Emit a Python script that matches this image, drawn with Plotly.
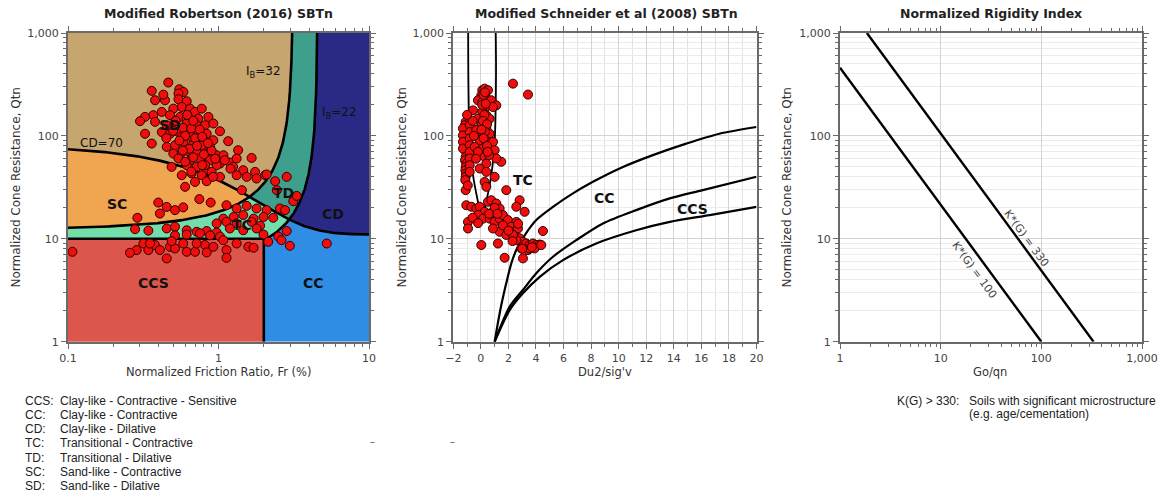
import numpy as np
import plotly.graph_objects as go

FONT = "DejaVu Sans"
W, H = 1171, 496

# ---------------- data ----------------
# Robertson (2016) chart points: normalized friction ratio Fr (%) and Qtn
rob_fr = [0.464, 0.360, 0.549, 0.584, 0.379, 0.441, 0.430, 0.542, 0.542, 0.615,
          0.570, 0.501, 0.647, 0.698, 0.774, 0.420, 0.369, 0.325, 0.301, 0.379,
          0.476, 0.556, 0.615, 0.734, 0.857, 0.453, 0.501, 0.615, 0.716, 0.814,
          0.924, 0.325, 0.420, 0.476, 0.542, 0.647, 0.734, 0.835, 1.023, 0.360,
          0.453, 0.514, 0.584, 0.680, 0.794, 0.924, 1.16, 0.501, 0.570, 0.630,
          0.716, 0.835, 0.972, 1.079, 1.35, 0.542, 0.647, 0.755, 0.879, 1.023,
          1.19, 1.32, 1.66, 0.488, 0.615, 0.716, 0.835, 0.972, 1.25, 1.46,
          0.570, 0.663, 0.774, 0.901, 1.32, 1.54, 1.75, 2.04, 0.698, 0.835,
          0.600, 1.79, 2.09, 2.38, 2.84, 0.570, 0.663, 0.774, 0.879, 0.600,
          0.814, 1.023, 1.43, 0.746, 0.887, 0.398, 0.453, 0.514, 0.583, 0.408,
          1.13, 1.32, 1.54, 1.79, 2.09, 2.56, 3.14, 3.31, 2.44, 0.289,
          1.076, 1.26, 1.46, 1.71, 1.99, 2.31, 2.77, 0.972, 1.13, 1.32,
          1.66, 1.89, 0.453, 0.514, 0.615, 0.716, 0.835, 0.972, 1.19, 1.46,
          1.79, 1.99, 0.279, 0.342, 0.514, 0.615, 0.753, 0.879, 1.023, 0.286,
          0.317, 0.342, 0.378, 0.408, 0.476, 0.514, 0.615, 0.698, 0.813, 0.924,
          1.076, 1.32, 1.58, 1.71, 2.14, 2.50, 2.84, 2.98, 5.24, 0.453,
          1.13, 1.13, 0.107, 0.258, 0.351, 0.835, 0.716, 0.583, 0.488, 2.62,
          0.52, 0.58, 0.66, 0.60, 0.70, 0.75, 0.55, 0.64, 0.72, 0.80,
          0.68, 0.90, 0.58, 0.45, 0.50, 0.62, 0.68, 0.78, 0.85, 0.95,
          1.10, 1.20, 0.66, 0.78, 0.92]
rob_qtn = [330, 274, 284, 267, 222, 222, 252, 258, 227, 217,
           191, 184, 184, 171, 184, 171, 159, 153, 139, 137,
           159, 153, 147, 147, 153, 127, 122, 132, 127, 127,
           132, 105, 109, 105, 109, 109, 105, 105, 111, 84.3,
           78.2, 81.2, 87.5, 84.3, 90.8, 90.8, 88.8, 67.3, 68.9, 71.0,
           70.0, 70.0, 64.9, 64.9, 72.6, 60.3, 58.0, 60.3, 58.0, 53.8,
           55.1, 60.3, 61.1, 50.0, 51.9, 50.0, 46.4, 51.9, 50.0, 46.4,
           41.5, 43.1, 41.5, 44.7, 41.5, 40.0, 44.7, 41.5, 35.7, 36.3,
           32.0, 38.5, 42.2, 36.3, 40.0, 97.8, 97.8, 81.2, 78.2, 56.0,
           52.0, 40.0, 29.7, 24.3, 22.5, 22.5, 20.4, 19.0, 20.2, 17.6,
           21.2, 19.7, 20.9, 19.7, 19.0, 19.7, 23.2, 26.1, 29.7, 16.0,
           15.7, 16.3, 17.0, 15.7, 16.3, 16.0, 19.0, 14.1, 14.6, 14.1,
           14.6, 13.4, 12.6, 13.1, 12.1, 11.7, 11.9, 11.5, 12.6, 12.1,
           12.6, 11.0, 12.4, 12.0, 10.8, 11.0, 11.3, 10.8, 10.5, 7.77,
           9.0, 7.77, 8.7, 7.77, 8.36, 8.06, 7.48, 7.48, 8.7, 8.36,
           9.7, 9.0, 8.36, 8.18, 9.35, 10.5, 11.9, 8.55, 9.0, 6.44,
           7.77, 6.53, 7.48, 7.31, 9.0, 7.37, 9.0, 9.0, 9.5, 9.7,
           140, 120, 118, 100, 95, 115, 90, 75, 80, 66,
           62, 72, 72, 95, 112, 160, 140, 98, 85, 60,
           58, 48, 45, 52, 40]

# Schneider (2008) chart points: Du2/sig'v and Qtn
sch_du = [-1.10, -1.15, -1.05, -1.12, -1.08, -1.14, -1.06, -1.10, -1.13, -1.07,
          -1.10, -1.15, -1.05, -1.10, -1.12, -1.08, -1.10, -1.13, -1.30, -1.30,
          -1.30, -1.30, -0.81, -0.81, -0.81, -0.81, -0.81, -0.81, -0.81, -0.81,
          -1.10, 2.33, 3.42, 0.105, 0.274, 0.516, 0.033, 0.395, 0.758, -0.209,
          1.12, 0.879, 0.105, 0.274, -0.572, 0.105, 0.395, -0.209, 0.274, 0.637,
          0.033, 0.395, -0.33, 0.637, 0.154, -0.088, 0.516, 0.879, -0.451, 0.154,
          -0.209, 0.999, 0.274, 1.483, 1.12, 0.395, -0.088, 0.395, 0.999, 0.274,
          0.395, 1.846, -1.055, -0.693, -0.33, -0.088, 0.274, 0.516, 0.758, 1.12,
          1.362, 0.879, -0.209, 0.154, 0.637, 0.999, 1.362, 1.604, 1.966, 2.571,
          1.725, 2.208, 1.362, 0.879, 1.846, 2.45, 2.692, 2.812, 3.054, 3.296,
          3.537, 3.779, 4.021, 4.263, 3.90, 3.417, 2.933, 2.571, 2.329, 2.812,
          3.175, 2.571, 4.504, -0.934, -0.934, 0.033, 1.241, 1.725, 3.054, 3.537,
          4.384, 0.20, 0.30, 0.10, 0.35, 0.25, 0.15, 0.45, 0.30, 0.05,
          0.20, 0.45, 0.60, 0.50, -0.35, -0.50, -0.60, -0.95, -1.00, 1.00,
          1.60, 2.00, 2.30, 3.00, 3.70, 2.70, 0.60, 1.20, -0.60, -0.20]
sch_qtn = [137, 127, 118, 109, 101, 94.2, 87.5, 81.2, 75.4, 70.0,
           62.5, 58.0, 53.8, 50.0, 46.4, 43.1, 40.0, 37.2, 118, 101,
           87.5, 75.4, 127, 109, 94.2, 81.2, 70.0, 60.3, 51.9, 44.7,
           29.7, 322, 252, 278, 288, 278, 248, 230, 222, 222,
           198, 191, 214, 184, 177, 171, 159, 147, 137, 147,
           127, 118, 114, 105, 101, 90.8, 87.5, 87.5, 78.2, 75.4,
           70.0, 72.6, 62.5, 56.0, 60.3, 53.8, 48.2, 44.7, 40.0, 35.7,
           32.0, 29.7, 21.2, 20.5, 19.7, 20.5, 18.3, 22.9, 23.7, 22.0,
           19.7, 18.3, 17.0, 15.7, 15.7, 14.6, 15.7, 17.0, 15.2, 14.6,
           12.6, 13.1, 11.7, 12.6, 10.9, 11.7, 12.6, 10.1, 9.35, 9.0,
           8.7, 9.0, 8.7, 8.8, 8.06, 7.77, 8.06, 9.7, 10.9, 23.7,
           18.3, 20.5, 11.9, 14.6, 12.6, 8.7, 9.0, 6.54, 6.45, 8.06,
           8.7, 250, 265, 200, 205, 160, 140, 130, 110, 115,
           95, 80, 65, 70, 60, 100, 140, 33, 160, 20,
           13.5, 12, 9.5, 8.0, 8.3, 14, 17.5, 17.5, 16, 14.2]

# Boundary parameters (as labelled on the Robertson chart)
CD_LEVEL = 70
IB_UPPER = 32
IB_LOWER = 22
QTN_SENSITIVE = 10
FR_SENSITIVE = 2

# Schneider chart boundary curves
tc_cc_du = [1.0, 1.4, 1.84, 2.21, 2.57, 3.18, 4.02, 5.23, 6.68, 8.13, 10.07, 12.48, 14.9, 17.3, 20.0]
tc_cc_q = [1.0, 2.0, 3.69, 5.77, 7.77, 10.8, 15.2, 20.4, 27.6, 35.8, 48.3, 65, 84.1, 105, 122]
cc_ccs_du = [1.0, 2.09, 3.05, 4.02, 5.23, 6.92, 8.86, 11.27, 13.71, 16.1, 20.0]
cc_ccs_q = [1.0, 2.19, 3.18, 4.62, 6.69, 9.7, 14.1, 19.0, 24.7, 29.7, 40.1]
ccs_low_du = [1.0, 2.09, 3.05, 4.27, 5.96, 8.37, 11.27, 13.71, 16.6, 20.0]
ccs_low_q = [1.0, 2.03, 2.95, 4.27, 6.2, 9.0, 12.1, 14.6, 17.0, 20.4]
tc_left_du = [-0.92, -0.90, -0.81, -0.57, -0.21, 0.08]
tc_left_q = [1000, 300, 87.5, 41.5, 22.9, 15.5]
tc_right_du = [1.08, 1.10, 1.00, 0.76, 0.39, 0.08]
tc_right_q = [1000, 390, 87.5, 41.5, 22.9, 15.5]

# Rigidity index lines
kg100_go = [1.0, 100.0]
kg100_q = [460.0, 1.0]
kg330_go = [1.85, 330.0]
kg330_q = [1000.0, 1.0]

legend_codes = ["CCS:", "CC:", "CD:", "TC:", "TD:", "SC:", "SD:"]
legend_desc = ["Clay-like - Contractive - Sensitive", "Clay-like - Contractive",
               "Clay-like - Dilative", "Transitional - Contractive",
               "Transitional - Dilative", "Sand-like - Contractive",
               "Sand-like - Dilative"]

# ---------------- Robertson boundaries ----------------
def cd_q(f):
    return 11.0 + CD_LEVEL / (1.0 + 0.06 * np.asarray(f)) ** 17

def ib_q(f, ib):
    return (70.0 * ib - 1000.0) / (100.0 - ib * np.asarray(f))

def ib_fr_at(q, ib):
    return (100.0 - (70.0 * ib - 1000.0) / q) / ib

def crossing(ib, lo, hi):
    g = lambda f: cd_q(f) - ib_q(f, ib)
    for _ in range(80):
        mid = 0.5 * (lo + hi)
        if g(lo) * g(mid) <= 0:
            hi = mid
        else:
            lo = mid
    return 0.5 * (lo + hi)

def seg(a, b, n=150):
    return np.logspace(np.log10(a), np.log10(b), n)

fA = crossing(IB_UPPER, 1.0, 2.5)
fB = crossing(IB_LOWER, 2.2, 4.0)
f10 = ib_fr_at(QTN_SENSITIVE, IB_LOWER)
fT32 = ib_fr_at(1000.0, IB_UPPER)
fT22 = ib_fr_at(1000.0, IB_LOWER)

s_left = seg(0.1, fA)
s_ab = seg(fA, fB)
s_b10 = seg(fB, 10)
s_32 = seg(fA, fT32)
s_22 = seg(fB, fT22)
s_10b = seg(f10, fB)

def L(a):
    return list(np.asarray(a, dtype=float))

regions = [
    ("#DC564B", [0.1, FR_SENSITIVE, FR_SENSITIVE, 0.1], [1, 1, QTN_SENSITIVE, QTN_SENSITIVE]),
    ("#2F8DE4", [FR_SENSITIVE, FR_SENSITIVE, f10] + L(s_10b) + L(s_b10) + [10],
     [1, QTN_SENSITIVE, QTN_SENSITIVE] + L(ib_q(s_10b, IB_LOWER)) + L(cd_q(s_b10)) + [1]),
    ("#2A2A86", L(s_b10) + [10, fT22] + L(s_22[::-1]),
     L(cd_q(s_b10)) + [1000, 1000] + L(ib_q(s_22[::-1], IB_LOWER))),
    ("#3E9F8C", L(s_32) + [fT22] + L(s_22[::-1]) + L(s_ab[::-1]),
     L(ib_q(s_32, IB_UPPER)) + [1000] + L(ib_q(s_22[::-1], IB_LOWER)) + L(cd_q(s_ab[::-1]))),
    ("#C6A56E", L(s_left) + L(s_32) + [0.1],
     L(cd_q(s_left)) + L(ib_q(s_32, IB_UPPER)) + [1000]),
    ("#F0A551", L(s_left) + L(s_left[::-1]),
     L(cd_q(s_left)) + L(ib_q(s_left[::-1], IB_UPPER))),
    ("#72DFAA", [0.1, f10] + L(s_10b) + L(s_ab[::-1]) + L(s_left[::-1]),
     [QTN_SENSITIVE, QTN_SENSITIVE] + L(ib_q(s_10b, IB_LOWER)) + L(cd_q(s_ab[::-1])) + L(ib_q(s_left[::-1], IB_UPPER))),
]

fig = go.Figure()
for col, xs, ys in regions:
    fig.add_trace(go.Scatter(x=xs, y=ys, fill="toself", fillcolor=col, mode="lines",
                             line=dict(width=0.6, color=col), hoverinfo="skip",
                             showlegend=False, xaxis="x", yaxis="y"))

s_all = seg(0.1, 10, 300)
s32_all = seg(0.1, fT32, 300)
s22_all = seg(f10, fT22, 200)
lw = 2.6
bl = [
    (L(s_all), L(cd_q(s_all))),
    (L(s32_all), L(ib_q(s32_all, IB_UPPER))),
    (L(s22_all), L(ib_q(s22_all, IB_LOWER))),
    ([0.1, f10], [QTN_SENSITIVE, QTN_SENSITIVE]),
    ([FR_SENSITIVE, FR_SENSITIVE], [1, QTN_SENSITIVE]),
]
for xs, ys in bl:
    fig.add_trace(go.Scatter(x=xs, y=ys, mode="lines", line=dict(color="black", width=lw),
                             hoverinfo="skip", showlegend=False, xaxis="x", yaxis="y"))

marker = dict(size=9, color="#F20D0D", line=dict(color="#2A0000", width=1))
fig.add_trace(go.Scatter(x=rob_fr, y=rob_qtn, mode="markers", marker=marker,
                         showlegend=False, xaxis="x", yaxis="y"))

# ---------------- Schneider ----------------
for xs, ys, w in [(tc_cc_du, tc_cc_q, 2.2), (cc_ccs_du, cc_ccs_q, 2.2), (ccs_low_du, ccs_low_q, 2.2),
                  (tc_left_du, tc_left_q, 1.8), (tc_right_du, tc_right_q, 1.8)]:
    fig.add_trace(go.Scatter(x=xs, y=ys, mode="lines", line=dict(color="black", width=w, shape="spline", smoothing=0.8),
                             hoverinfo="skip", showlegend=False, xaxis="x2", yaxis="y2"))
fig.add_trace(go.Scatter(x=sch_du, y=sch_qtn, mode="markers", marker=marker,
                         showlegend=False, xaxis="x2", yaxis="y2"))

# ---------------- Rigidity ----------------
for xs, ys in [(kg100_go, kg100_q), (kg330_go, kg330_q)]:
    fig.add_trace(go.Scatter(x=xs, y=ys, mode="lines", line=dict(color="black", width=2.4),
                             hoverinfo="skip", showlegend=False, xaxis="x3", yaxis="y3"))

# ---------------- axes ----------------
Y_DOM = [1 - 341.7 / H, 1 - 33 / H]
X1 = [68 / W, 369 / W]
X2 = [453.3 / W, 756.5 / W]
X3 = [840 / W, 1142 / W]

decade_minor = [m * 10 ** e for e in range(-1, 3) for m in range(2, 10)]
tickfont = dict(family=FONT, size=11, color="#444444")
frame = dict(showline=True, linecolor="#6a6a6a", linewidth=2, mirror="allticks",
             ticks="outside", ticklen=5, tickcolor="#6a6a6a", tickwidth=1,
             tickfont=tickfont, zeroline=False, automargin=False)

def yq(domain, anchor, grid):
    d = dict(frame)
    d.update(type="log", range=[0, 3], domain=domain, anchor=anchor,
             tickmode="array", tickvals=[1, 10, 100, 1000], ticktext=["1", "10", "100", "1,000"],
             showgrid=grid, gridcolor="#d4d4d4", gridwidth=1,
             minor=dict(tickmode="array", tickvals=[v for v in decade_minor if 1 < v < 1000],
                        ticks="outside", ticklen=3, tickcolor="#6a6a6a",
                        showgrid=grid, gridcolor="#ebebeb", gridwidth=1))
    return d

xa1 = dict(frame)
xa1.update(type="log", range=[-1, 1], domain=X1, anchor="y", tickmode="array",
           tickvals=[0.1, 1, 10], ticktext=["0.1", "1", "10"], showgrid=False,
           minor=dict(tickmode="array", tickvals=[v for v in decade_minor if 0.1 < v < 10],
                      ticks="outside", ticklen=3, tickcolor="#6a6a6a"))
xa2 = dict(frame)
xa2.update(type="linear", range=[-2, 20], domain=X2, anchor="y2", tick0=-2, dtick=2,
           showgrid=True, gridcolor="#d4d4d4",
           minor=dict(dtick=1, ticks="outside", ticklen=3, tickcolor="#6a6a6a",
                      showgrid=True, gridcolor="#e3e3e3"))
xa3 = dict(frame)
xa3.update(type="log", range=[0, 3], domain=X3, anchor="y3", tickmode="array",
           tickvals=[1, 10, 100, 1000], ticktext=["1", "10", "100", "1,000"],
           showgrid=True, gridcolor="#d4d4d4",
           minor=dict(tickmode="array", tickvals=[v for v in decade_minor if 1 < v < 1000],
                      ticks="outside", ticklen=3, tickcolor="#6a6a6a", showgrid=False))

fig.update_layout(
    width=W, height=H, margin=dict(l=0, r=0, t=0, b=0, autoexpand=False),
    paper_bgcolor="white", plot_bgcolor="white", showlegend=False,
    xaxis=xa1, yaxis=yq(Y_DOM, "x", False),
    xaxis2=xa2, yaxis2=yq(Y_DOM, "x2", True),
    xaxis3=xa3, yaxis3=yq(Y_DOM, "x3", True),
)

ann = []
def P(text, px, py, size=12, bold=False, angle=0, color="#222222", xanchor="center", family=FONT):
    ann.append(dict(text=("<b>%s</b>" % text) if bold else text, x=px / W, y=1 - py / H,
                    xref="paper", yref="paper", showarrow=False, xanchor=xanchor, yanchor="middle",
                    textangle=angle, font=dict(family=family, size=size, color=color)))

def D(text, xv, yv, xr, yr, size=14, bold=True, angle=0, color="#111111", logx=True):
    ann.append(dict(text=("<b>%s</b>" % text) if bold else text,
                    x=np.log10(xv) if logx else xv, y=np.log10(yv), xref=xr, yref=yr,
                    showarrow=False, textangle=angle, font=dict(family=FONT, size=size, color=color)))

# titles
P("Modified Robertson (2016) SBTn", 218.5, 13, 12.5, True)
P("Modified Schneider et al (2008) SBTn", 606, 13, 12.5, True)
P("Normalized Rigidity Index", 991, 13, 12.5, True)
# axis titles
P("Normalized Friction Ratio, Fr (%)", 218.5, 372, 11.5, color="#333333")
P("Du2/sig'v", 605, 372, 11.5, color="#333333")
P("Go/qn", 990, 372, 11.5, color="#333333")
for xp in (15, 401, 786):
    P("Normalized Cone Resistance, Qtn", xp, 187.5, 12, angle=-90, color="#333333")

# Robertson zone labels
D("SD", 0.477, 127, "x", "y")
D("I<sub>B</sub>=32", 1.98, 415, "x", "y", size=12, bold=False)
D("I<sub>B</sub>=22", 6.41, 166, "x", "y", size=12, bold=False)
D("CD=70", 0.167, 84.4, "x", "y", size=12, bold=False)
D("SC", 0.211, 21.7, "x", "y")
D("TD", 2.70, 27.6, "x", "y")
D("TC", 1.43, 13.6, "x", "y")
D("CD", 5.79, 17.6, "x", "y")
D("CCS", 0.369, 3.69, "x", "y")
D("CC", 4.27, 3.69, "x", "y")
# Schneider labels
D("TC", 3.05, 37.2, "x2", "y2", logx=False)
D("CC", 8.98, 24.7, "x2", "y2", logx=False)
D("CCS", 15.38, 19.7, "x2", "y2", logx=False)
# Rigidity labels
D("K*(G) = 330", 71.5, 10.1, "x3", "y3", size=11, bold=False, angle=53.8, color="#444444")
D("K*(G) = 100", 21.9, 4.97, "x3", "y3", size=11, bold=False, angle=53.8, color="#444444")

# legend text
LF = "Liberation Sans"
for i, (c, d) in enumerate(zip(legend_codes, legend_desc)):
    y = 400.7 + i * 14.2
    P(c, 23, y, 12, xanchor="left", family=LF, color="#222222")
    P(d, 58, y, 12, xanchor="left", family=LF, color="#222222")
P("K(G) > 330:", 895, 400.7, 12, xanchor="left", family=LF)
P("Soils with significant microstructure", 967, 400.7, 12, xanchor="left", family=LF)
P("(e.g. age/cementation)", 967, 414, 12, xanchor="left", family=LF)
P("\u2013", 372, 441, 10, color="#555555")
P("\u2013", 452, 441, 10, color="#555555")

fig.update_layout(annotations=ann)
fig.write_html("out.html")
